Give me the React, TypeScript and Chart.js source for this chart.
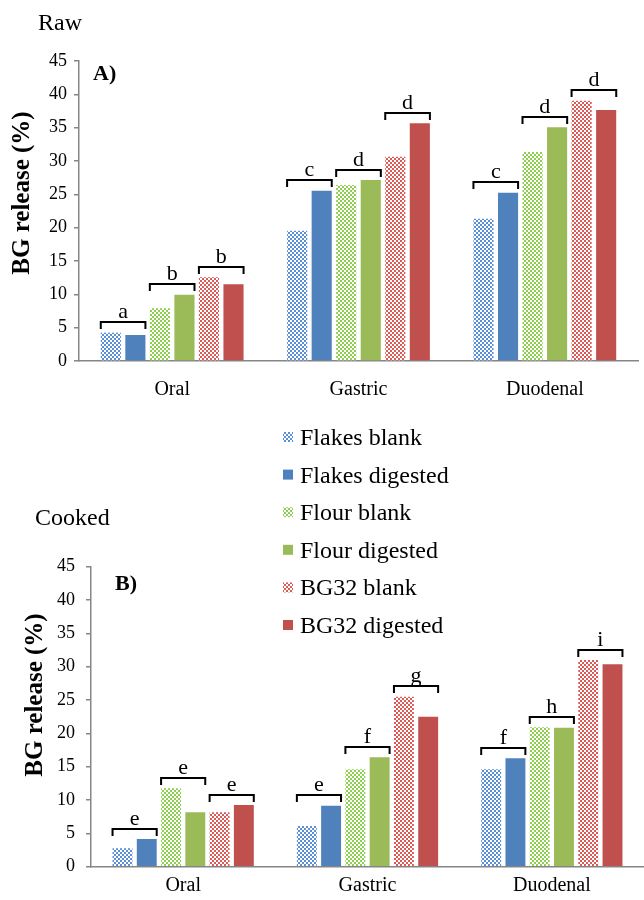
import React, { useEffect, useRef } from 'react';
import { Chart, registerables } from 'chart.js';

Chart.register(...registerables);

// ---------- DATA ----------
const categories = ['Oral', 'Gastric', 'Duodenal'];
const seriesLabels = ['Flakes blank', 'Flakes digested', 'Flour blank', 'Flour digested', 'BG32 blank', 'BG32 digested'];
const yTicks = [0, 5, 10, 15, 20, 25, 30, 35, 40, 45];

const rawFlakesBlank = [4.25, 19.55, 21.35];
const rawFlakesDigested = [3.9, 25.55, 25.25];
const rawFlourBlank = [7.9, 26.4, 31.35];
const rawFlourDigested = [9.95, 27.15, 35.05];
const rawBG32Blank = [12.55, 30.65, 39.05];
const rawBG32Digested = [11.5, 35.65, 37.65];

const cookedFlakesBlank = [2.75, 6.1, 14.6];
const cookedFlakesDigested = [4.15, 9.15, 16.25];
const cookedFlourBlank = [11.75, 14.6, 20.9];
const cookedFlourDigested = [8.15, 16.4, 20.85];
const cookedBG32Blank = [8.15, 25.5, 31.0];
const cookedBG32Digested = [9.25, 22.5, 30.35];

// letters per category: [flakes pair, flour pair, BG32 pair]
const rawLetters = [['a', 'b', 'b'], ['c', 'd', 'd'], ['c', 'd', 'd']];
const cookedLetters = [['e', 'e', 'e'], ['e', 'f', 'g'], ['f', 'h', 'i']];

// ---------- STYLE ----------
const SERIF = '"Liberation Serif", "Times New Roman", Times, serif';
const solidColors = ['#4f81bd', '#9bbb59', '#c0504d'];
const blankColors = ['#5a8ed6', '#8fcf4f', '#dc5a56'];
const AXIS = '#868686';

function makePattern(color: string): CanvasPattern | string {
  const c = document.createElement('canvas');
  c.width = 4;
  c.height = 4;
  const g = c.getContext('2d');
  if (!g) return color;
  g.fillStyle = '#ffffff';
  g.fillRect(0, 0, 4, 4);
  g.fillStyle = color;
  g.fillRect(0, 0, 2, 2);
  g.fillRect(2, 2, 2, 2);
  return g.createPattern(c, 'repeat') || color;
}

type PanelProps = {
  values: number[][];
  letters: string[][];
  title: string;
  panelLabel: string;
  top: number;
  height: number;
  padTop: number;
  padRight: number;
  yWidth: number;
  xHeight: number;
  xLabelPad: number;
  yLabelPad: number;
  titlePos: [number, number];
  panelPos: [number, number];
  yTitlePos: [number, number];
  legend: boolean;
};

function Panel(p: PanelProps) {
  const ref = useRef<HTMLCanvasElement | null>(null);

  useEffect(() => {
    if (!ref.current) return;
    const fills = seriesLabels.map((_, i) => {
      const k = Math.floor(i / 2);
      return i % 2 === 0 ? makePattern(blankColors[k]) : solidColors[k];
    });

    const annot = {
      id: 'annot',
      afterDatasetsDraw(chart: any) {
        const ctx = chart.ctx as CanvasRenderingContext2D;
        ctx.save();
        ctx.strokeStyle = '#000';
        ctx.lineWidth = 2;
        ctx.fillStyle = '#000';
        ctx.font = `22px ${SERIF}`;
        ctx.textAlign = 'center';
        ctx.textBaseline = 'alphabetic';
        p.letters.forEach((row, ci) => {
          row.forEach((letter, pi) => {
            const a = chart.getDatasetMeta(pi * 2).data[ci];
            const b = chart.getDatasetMeta(pi * 2 + 1).data[ci];
            const left = a.x - a.width / 2;
            const right = b.x + b.width / 2;
            const y = Math.round(Math.min(a.y, b.y) - 10.5);
            ctx.beginPath();
            ctx.moveTo(left, y + 7);
            ctx.lineTo(left, y);
            ctx.lineTo(right, y);
            ctx.lineTo(right, y + 7);
            ctx.stroke();
            ctx.fillText(letter, (left + right) / 2, y - 4);
          });
        });
        ctx.restore();
      },
      afterDraw(chart: any) {
        const ctx = chart.ctx as CanvasRenderingContext2D;
        ctx.save();
        ctx.fillStyle = '#000';
        ctx.textBaseline = 'alphabetic';
        ctx.textAlign = 'left';
        ctx.font = `24px ${SERIF}`;
        ctx.fillText(p.title, p.titlePos[0], p.titlePos[1]);
        ctx.font = `bold 22px ${SERIF}`;
        ctx.fillText(p.panelLabel, p.panelPos[0], p.panelPos[1]);
        // y axis title
        ctx.save();
        ctx.translate(p.yTitlePos[0], p.yTitlePos[1]);
        ctx.rotate(-Math.PI / 2);
        ctx.textAlign = 'center';
        ctx.textBaseline = 'middle';
        ctx.font = `bold 25px ${SERIF}`;
        ctx.fillText('BG release (%)', 0, 0);
        ctx.restore();
        if (p.legend) {
          ctx.font = `24px ${SERIF}`;
          ctx.textAlign = 'left';
          ctx.textBaseline = 'alphabetic';
          chart.data.datasets.forEach((ds: any, i: number) => {
            const base = 45 + i * 37.6;
            ctx.fillStyle = ds.backgroundColor;
            ctx.fillRect(283, base - 13, 10, 10);
            ctx.fillStyle = '#000';
            ctx.fillText(ds.label, 300, base);
          });
        }
        ctx.restore();
      },
    };

    const chart = new Chart(ref.current, {
      type: 'bar',
      data: {
        labels: categories,
        datasets: seriesLabels.map((label, i) => ({
          label,
          data: p.values[i],
          backgroundColor: fills[i] as any,
          borderWidth: 0,
          categoryPercentage: 0.79,
          barPercentage: 0.82,
        })),
      },
      options: {
        responsive: false,
        animation: false,
        devicePixelRatio: 1,
        layout: { padding: { top: p.padTop, right: p.padRight, left: 0, bottom: 0 } },
        plugins: { legend: { display: false }, tooltip: { enabled: false }, title: { display: false } },
        scales: {
          x: {
            grid: { display: false, drawTicks: false },
            border: { display: true, color: AXIS, width: 1.5 },
            ticks: { color: '#000', font: { family: SERIF, size: 20 }, padding: p.xLabelPad },
            afterFit: (s: any) => {
              s.height = p.xHeight;
              s.paddingLeft = 0;
              s.paddingRight = 0;
            },
          },
          y: {
            min: 0,
            max: 45,
            afterBuildTicks: (s: any) => {
              s.ticks = yTicks.map((v) => ({ value: v }));
            },
            grid: { display: true, drawOnChartArea: false, drawTicks: true, tickLength: 5, color: AXIS, lineWidth: 1.5 },
            border: { display: true, color: AXIS, width: 1.5 },
            ticks: { color: '#000', font: { family: SERIF, size: 18 }, padding: p.yLabelPad },
            afterFit: (s: any) => {
              s.width = p.yWidth;
              s.paddingTop = 0;
              s.paddingBottom = 0;
            },
          },
        },
      },
      plugins: [annot],
    });
    return () => chart.destroy();
  }, []);

  return (
    <canvas
      ref={ref}
      width={644}
      height={p.height}
      style={{ position: 'absolute', left: 0, top: p.top, width: 644, height: p.height }}
    />
  );
}

export default function App() {
  const rawValues = [rawFlakesBlank, rawFlakesDigested, rawFlourBlank, rawFlourDigested, rawBG32Blank, rawBG32Digested];
  const cookedValues = [cookedFlakesBlank, cookedFlakesDigested, cookedFlourBlank, cookedFlourDigested, cookedBG32Blank, cookedBG32Digested];
  return (
    <div style={{ position: 'absolute', left: 0, top: 0, width: 644, height: 900, background: '#fff', overflow: 'hidden' }}>
      <Panel
        values={rawValues}
        letters={rawLetters}
        title="Raw"
        panelLabel="A)"
        top={0}
        height={400}
        padTop={61}
        padRight={6}
        yWidth={79}
        xHeight={39}
        xLabelPad={17}
        yLabelPad={7}
        titlePos={[38, 30]}
        panelPos={[93, 80]}
        yTitlePos={[23, 193]}
        legend={false}
      />
      <Panel
        values={cookedValues}
        letters={cookedLetters}
        title="Cooked"
        panelLabel="B)"
        top={400}
        height={500}
        padTop={166.7}
        padRight={0}
        yWidth={91}
        xHeight={33.3}
        xLabelPad={7}
        yLabelPad={11}
        titlePos={[35, 125]}
        panelPos={[115, 190]}
        yTitlePos={[36, 295]}
        legend={true}
      />
    </div>
  );
}
